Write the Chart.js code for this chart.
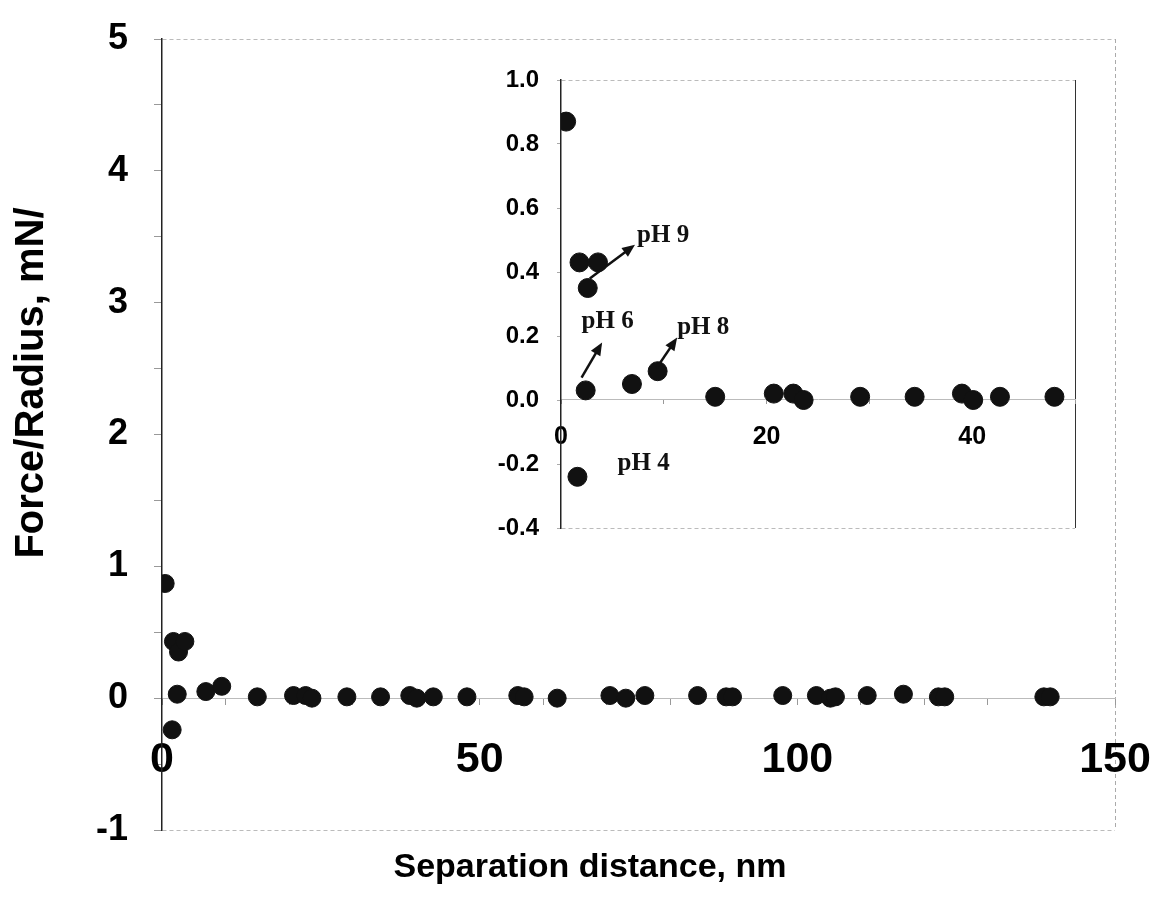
<!DOCTYPE html>
<html lang="en">
<head>
  <meta charset="UTF-8">
  <title>Force/Radius vs separation distance</title>
  <script src="https://cdn.jsdelivr.net/npm/chart.js"></script>
  <style>
    body { margin: 0; background: #ffffff; }
    .wrap { position: relative; width: 1155px; height: 920px; }
    #main { position: absolute; left: 0; top: 0; }
    #inset { position: absolute; left: 440px; top: 50px; }
  </style>
</head>
<body>
  <div class="wrap">
    <canvas id="main" width="1155" height="920"></canvas>
    <canvas id="inset" width="660" height="500"></canvas>
  </div>

  <script>
    // separation distance (nm) and force/radius (mN/m)
    const distance = [0.5, 1.6, 1.8, 2.4, 2.6, 3.6, 6.9, 9.4, 15.0, 20.7, 22.6, 23.6, 29.1, 34.4,
      39.0, 40.1, 42.7, 48.0, 56.0, 57.0, 62.2, 70.5, 73.0, 76.0, 84.3, 88.8, 89.8, 97.7,
      103.0, 105.2, 106.0, 111.0, 116.7, 122.2, 123.2, 138.8, 139.8];
    const force = [0.87, -0.24, 0.43, 0.03, 0.35, 0.43, 0.05, 0.09, 0.01, 0.02, 0.02, 0.0, 0.01, 0.01,
      0.02, 0.0, 0.01, 0.01, 0.02, 0.01, 0.0, 0.02, 0.0, 0.02, 0.02, 0.01, 0.01, 0.02,
      0.02, 0.0, 0.01, 0.02, 0.03, 0.01, 0.01, 0.01, 0.01];

    const mainXTicks = [0, 50, 100, 150];
    const mainYTicks = [-1, 0, 1, 2, 3, 4, 5];
    const insetXTicks = [0, 20, 40];

    // inset labels: text, x, y (data units of the inset)
    const phLabels = ['pH 9', 'pH 6', 'pH 8', 'pH 4'];
    const phLabelX = [7.4, 2.0, 11.3, 5.5];
    const phLabelY = [0.515, 0.245, 0.225, -0.2];
    // arrows: from (x0,y0) to (x1,y1)
    const arrowX0 = [2.8, 2.0, 9.3];
    const arrowY0 = [0.38, 0.07, 0.10];
    const arrowX1 = [7.2, 4.0, 11.3];
    const arrowY1 = [0.485, 0.18, 0.195];

    const points = distance.map((d, i) => ({ x: d, y: force[i] }));
    const insetPoints = points.filter(p => p.x <= 50);

    const sans = "'Liberation Sans', Arial, sans-serif";
    const clear = 'rgba(0,0,0,0)';

    // keep the chart area where the padding puts it
    const noPadX = s => { s.height = 0; s.paddingLeft = 0; s.paddingRight = 0; };
    const noPadY = w => s => { s.width = w; s.paddingTop = 0; s.paddingBottom = 0; };

    const axisTitles = {
      id: 'axisTitles',
      afterDraw(chart) {
        const ctx = chart.ctx;
        ctx.save();
        ctx.fillStyle = '#000';
        ctx.textAlign = 'center';
        ctx.textBaseline = 'middle';
        ctx.font = 'bold 34px ' + sans;
        ctx.fillText('Separation distance, nm', 590, 868);
        ctx.font = 'bold 40px ' + sans;
        ctx.translate(32, 383);
        ctx.rotate(-Math.PI / 2);
        ctx.fillText('Force/Radius, mN/', 0, 0);
        ctx.restore();
      }
    };

    new Chart(document.getElementById('main'), {
      type: 'scatter',
      data: {
        datasets: [{
          data: points,
          backgroundColor: '#111',
          borderColor: '#111',
          pointRadius: 9,
          pointHoverRadius: 9
        }]
      },
      options: {
        responsive: false,
        animation: false,
        events: [],
        layout: { padding: { top: 39, right: 40, bottom: 90, left: 0 } },
        plugins: { legend: { display: false }, tooltip: { enabled: false } },
        scales: {
          x: {
            type: 'linear',
            min: 0,
            max: 150,
            position: { y: 0 },
            afterFit: noPadX,
            ticks: {
              stepSize: 10,
              autoSkip: false,
              maxRotation: 0,
              color: '#000',
              padding: 30,
              font: { family: sans, size: 43, weight: 'bold' },
              callback: v => mainXTicks.includes(v) ? String(v) : ''
            },
            grid: {
              color: c => c.tick && c.tick.value === 150 ? '#aaa' : clear,
              tickColor: '#999',
              tickLength: 6
            },
            border: { color: '#bbb', width: 1, dash: [4, 3] }
          },
          y: {
            min: -1,
            max: 5,
            afterFit: noPadY(162),
            ticks: {
              stepSize: 0.5,
              color: '#000',
              padding: 26,
              font: { family: sans, size: 36, weight: 'bold' },
              callback: v => mainYTicks.includes(v) ? String(v) : ''
            },
            grid: {
              color: c => c.tick && (c.tick.value === 5 || c.tick.value === -1) ? '#bbb' : clear,
              tickColor: '#999',
              tickLength: 8
            },
            border: { color: '#222', width: 1.5, dash: [4, 3] }
          }
        }
      },
      plugins: [axisTitles]
    });

    const insetNotes = {
      id: 'insetNotes',
      afterDatasetsDraw(chart) {
        const ctx = chart.ctx;
        const xs = chart.scales.x, ys = chart.scales.y;
        ctx.save();
        ctx.fillStyle = '#111';
        ctx.strokeStyle = '#111';
        ctx.lineWidth = 2.5;
        arrowX0.forEach((x0, i) => {
          const ax = xs.getPixelForValue(x0), ay = ys.getPixelForValue(arrowY0[i]);
          const bx = xs.getPixelForValue(arrowX1[i]), by = ys.getPixelForValue(arrowY1[i]);
          const ang = Math.atan2(by - ay, bx - ax);
          const head = 14;
          ctx.beginPath();
          ctx.moveTo(ax, ay);
          ctx.lineTo(bx - head * 0.8 * Math.cos(ang), by - head * 0.8 * Math.sin(ang));
          ctx.stroke();
          ctx.beginPath();
          ctx.moveTo(bx, by);
          ctx.lineTo(bx - head * Math.cos(ang - 0.4), by - head * Math.sin(ang - 0.4));
          ctx.lineTo(bx - head * Math.cos(ang + 0.4), by - head * Math.sin(ang + 0.4));
          ctx.closePath();
          ctx.fill();
        });
        ctx.font = "bold 25px 'Liberation Serif', 'Times New Roman', serif";
        ctx.textAlign = 'left';
        ctx.textBaseline = 'middle';
        phLabels.forEach((t, i) => {
          ctx.fillText(t, xs.getPixelForValue(phLabelX[i]), ys.getPixelForValue(phLabelY[i]));
        });
        ctx.restore();
      }
    };

    new Chart(document.getElementById('inset'), {
      type: 'scatter',
      data: {
        datasets: [{
          data: insetPoints,
          backgroundColor: '#111',
          borderColor: '#111',
          pointRadius: 9.5,
          pointHoverRadius: 9.5
        }]
      },
      options: {
        responsive: false,
        animation: false,
        events: [],
        layout: { padding: { top: 30, right: 25, bottom: 22, left: 0 } },
        plugins: { legend: { display: false }, tooltip: { enabled: false } },
        scales: {
          x: {
            type: 'linear',
            min: 0,
            max: 50,
            position: { y: 0 },
            afterFit: noPadX,
            ticks: {
              stepSize: 10,
              autoSkip: false,
              maxRotation: 0,
              color: '#000',
              padding: 18,
              font: { family: sans, size: 25, weight: 'bold' },
              callback: v => insetXTicks.includes(v) ? String(v) : ''
            },
            grid: {
              color: c => c.tick && c.tick.value === 50 ? '#333' : clear,
              tickColor: '#999',
              tickLength: 4
            },
            border: { color: '#bbb', width: 1 }
          },
          y: {
            min: -0.4,
            max: 1.0,
            afterFit: noPadY(121),
            ticks: {
              stepSize: 0.2,
              color: '#000',
              padding: 18,
              font: { family: sans, size: 24, weight: 'bold' },
              callback: v => Math.abs(v) < 1e-9 ? '0.0' : v.toFixed(1)
            },
            grid: {
              color: c => c.tick && (Math.abs(c.tick.value - 1) < 1e-6 || Math.abs(c.tick.value + 0.4) < 1e-6) ? '#bbb' : clear,
              tickColor: '#aaa',
              tickLength: 4
            },
            border: { color: '#222', width: 1.5, dash: [4, 3] }
          }
        }
      },
      plugins: [insetNotes]
    });
  </script>
</body>
</html>
